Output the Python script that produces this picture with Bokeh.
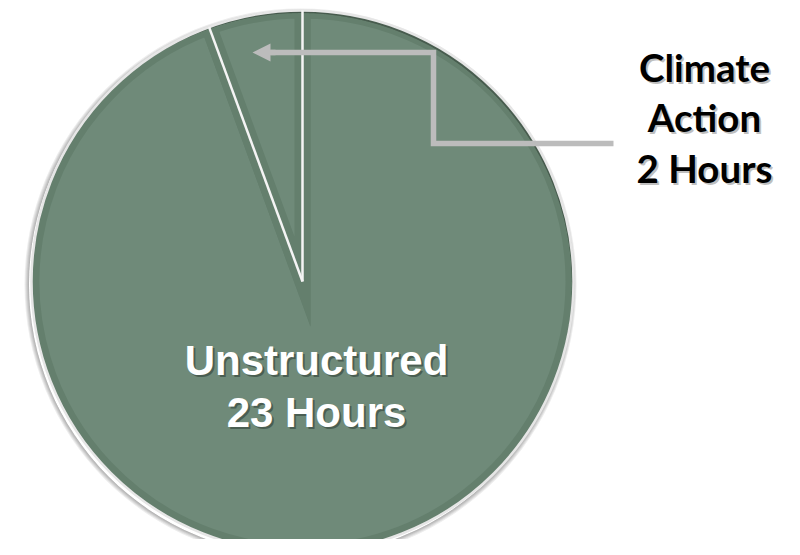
import math
from bokeh.plotting import figure
from bokeh.models import Range1d, Arrow, NormalHead
from bokeh.core.properties import value
from bokeh.embed import file_html
from bokeh.resources import INLINE

# ---- data -------------------------------------------------------------
categories = ["Unstructured", "Climate Action"]
hours = [23, 2]
# share of the full circle each slice occupies, as drawn in the picture
drawn_share = [0.944, 0.056]

# ---- figure (1 data unit = 1 screen pixel, y = -screen_y) --------------
W, H = 784, 539
p = figure(width=W, height=H, x_range=Range1d(0, W), y_range=Range1d(-H, 0),
           output_backend="svg", toolbar_location=None, min_border=0,
           x_axis_location=None, y_axis_location=None)
p.grid.visible = False
p.outline_line_color = None
p.background_fill_color = "white"
p.border_fill_color = "white"

cx, cy, R = 302, -281, 271
FILL = "#6f8a79"
BAND = "#647f6d"

# slice angles, anticlockwise from 12 o'clock: Climate Action first, then the rest
order = [1, 0]
a = math.pi / 2
starts, ends = [0.0, 0.0], [0.0, 0.0]
for i in order:
    starts[i] = a
    a += 2 * math.pi * drawn_share[i]
    ends[i] = a

# wedges: thick darker border produces the bevel band inside every slice
p.wedge(x=[cx, cx], y=[cy, cy], radius=R, start_angle=starts, end_angle=ends,
        fill_color=FILL, line_color=BAND, line_width=16, line_join="miter")

# mask the part of the border that spills outside the circle
p.annulus(x=cx, y=cy, inner_radius=R + 0.5, outer_radius=R + 16,
          fill_color="white", line_color=None)

# soft drop shadow (down-left)
for k in range(1, 6):
    p.annulus(x=cx - 2, y=cy - 3, inner_radius=R + 0.5, outer_radius=R + k,
              fill_color="black", fill_alpha=0.07, line_color=None)

# light outline of the pie
p.circle(x=cx, y=cy, radius=R, fill_color=None, line_color="#e6e6e6", line_width=2.5)

# white separators between slices
bounds = sorted(set([starts[i] % (2 * math.pi) for i in order]))
p.segment(x0=[cx] * len(bounds), y0=[cy] * len(bounds),
          x1=[cx + R * math.cos(b) for b in bounds], y1=[cy + R * math.sin(b) for b in bounds],
          line_color="#f4f4f4", line_width=2.5)

# ---- callout arrow ------------------------------------------------------
GRAY = "#bcbcbc"
p.line(x=[613, 433, 433, 268], y=[-143, -143, -52, -52], line_color=GRAY,
       line_width=5.5, line_join="miter")
p.add_layout(Arrow(end=NormalHead(size=18, fill_color=GRAY, line_color=GRAY, line_width=0),
                   x_start=275, y_start=-52, x_end=252, y_end=-52,
                   line_color=GRAY, line_width=5.5))

# ---- labels -------------------------------------------------------------
un_lines = [categories[0], f"{hours[0]} Hours"]
ca_lines = categories[1].split() + [f"{hours[1]} Hours"]

un_x, un_y0, un_dy = 316, -359.5, 52
ca_x, ca_y0, ca_dy = 704, -66.2, 50.5

un_ys = [un_y0 - i * un_dy for i in range(len(un_lines))]
ca_ys = [ca_y0 - i * ca_dy for i in range(len(ca_lines))]

UN_FS, CA_FS = "42px", "38.5px"

# shadows
p.text(x=[un_x + 2] * len(un_lines), y=[y - 2 for y in un_ys], text=un_lines,
       text_font=value("Liberation Sans"), text_font_style="bold", text_font_size=UN_FS,
       text_align="center", text_baseline="alphabetic", text_color="#26332b", text_alpha=0.5)
p.text(x=[ca_x + 2] * len(ca_lines), y=[y - 2 for y in ca_ys], text=ca_lines,
       text_font=value("Lato"), text_font_style="bold", text_font_size=CA_FS,
       text_align="center", text_baseline="alphabetic", text_color="black", text_alpha=0.25)

# main texts
p.text(x=[un_x] * len(un_lines), y=un_ys, text=un_lines,
       text_font=value("Liberation Sans"), text_font_style="bold", text_font_size=UN_FS,
       text_align="center", text_baseline="alphabetic", text_color="white")
p.text(x=[ca_x] * len(ca_lines), y=ca_ys, text=ca_lines,
       text_font=value("Lato"), text_font_style="bold", text_font_size=CA_FS,
       text_align="center", text_baseline="alphabetic", text_color="black")

open("out.html", "w").write(file_html(p, INLINE))
